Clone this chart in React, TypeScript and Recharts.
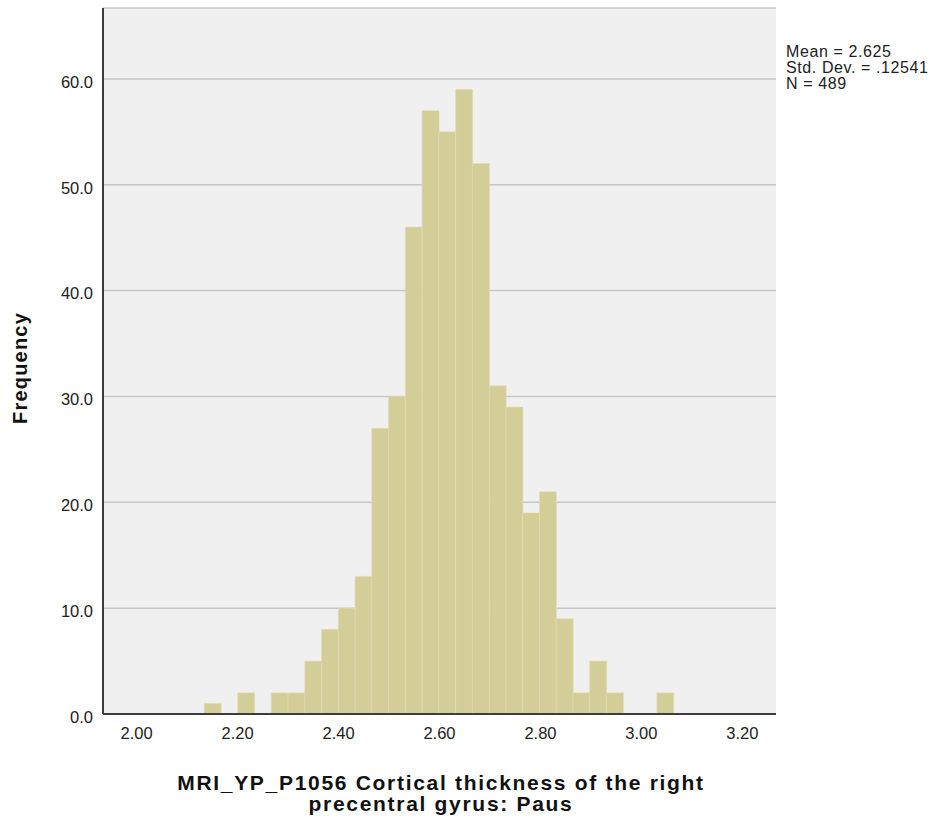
import React from "react"
import {
  BarChart,
  Bar,
  XAxis,
  YAxis,
  CartesianGrid
} from "recharts"

// bin centres (cortical thickness, mm) and counts per bin
const binCenters = [
  2.1504, 2.1836, 2.2168, 2.25, 2.2832, 2.3165, 2.3497, 2.3829, 2.4161, 2.4493,
  2.4825, 2.5157, 2.5489, 2.5821, 2.6153, 2.6486, 2.6818, 2.715, 2.7482, 2.7814,
  2.8146, 2.8478, 2.881, 2.9142, 2.9474, 2.9807, 3.0139, 3.0471
]
const counts = [
  1, 0, 2, 0, 2, 2, 5, 8, 10, 13,
  27, 30, 46, 57, 55, 59, 52, 31, 29, 19,
  21, 9, 2, 5, 2, 0, 0, 2
]

const xTicks = [2.0, 2.2, 2.4, 2.6, 2.8, 3.0, 3.2]
const yTicks = [0, 10, 20, 30, 40, 50, 60]

const statLines = ["Mean = 2.625", "Std. Dev. = .12541", "N = 489"]
const xTitle = ["MRI_YP_P1056 Cortical thickness of the right", "precentral gyrus: Paus"]
const yTitle = "Frequency"

const data = binCenters.map((x, i) => ({ x, freq: counts[i] }))

const font = "'Liberation Sans', Arial, sans-serif"
const tickStyle = { fontSize: 16.5, fill: "#222", fontFamily: font }

export default function App() {
  return (
    <div style={{ position: "absolute", left: 0, top: 0, width: 938, height: 825, background: "#fff" }}>
      <BarChart
        width={938}
        height={825}
        data={data}
        margin={{ top: 8, right: 162, left: 43, bottom: 81 }}
        barCategoryGap={0}
        barGap={0}
      >
        <CartesianGrid
          vertical={false}
          fill="#f0f0f0"
          fillOpacity={1}
          stroke="#c6c6c6"
          strokeWidth={1.5}
        />
        <XAxis
          dataKey="x"
          type="number"
          domain={[1.9333, 3.2667]}
          ticks={xTicks}
          interval={0}
          allowDataOverflow
          tickFormatter={(v: number) => v.toFixed(2)}
          tickLine={false}
          tickMargin={7}
          height={30}
          axisLine={{ stroke: "#3c3c3c", strokeWidth: 2 }}
          tick={tickStyle}
        />
        <XAxis
          xAxisId="top"
          orientation="top"
          type="number"
          domain={[1.9333, 3.2667]}
          height={0}
          tick={false}
          tickLine={false}
          axisLine={{ stroke: "#555", strokeWidth: 2 }}
        />
        <YAxis
          domain={[0, 66.7]}
          ticks={yTicks}
          interval={0}
          allowDataOverflow
          tickFormatter={(v: number) => v.toFixed(1)}
          tickLine={false}
          tickMargin={4}
          width={60}
          axisLine={{ stroke: "#3c3c3c", strokeWidth: 2 }}
          tick={{ ...tickStyle, dy: 3 }}
        />
        <YAxis
          yAxisId="right"
          orientation="right"
          domain={[0, 66.7]}
          width={0}
          tick={false}
          tickLine={false}
          axisLine={{ stroke: "#888", strokeWidth: 2 }}
        />
        <Bar
          dataKey="freq"
          fill="#d3ce98"
          stroke="#e0ddb8"
          strokeWidth={0.7}
          isAnimationActive={false}
        />
      </BarChart>
      <svg
        width={938}
        height={825}
        style={{ position: "absolute", left: 0, top: 0, pointerEvents: "none" }}
      >
        <text
          transform="translate(26.5, 368) rotate(-90)"
          textAnchor="middle"
          fontFamily={font}
          fontWeight="bold"
          fontSize={20}
          letterSpacing={1.2}
          fill="#111"
        >
          {yTitle}
        </text>
        {xTitle.map((line, i) => (
          <text
            key={line}
            x={441}
            y={790 + i * 21}
            textAnchor="middle"
            fontFamily={font}
            fontWeight="bold"
            fontSize={21}
            letterSpacing={1.7}
            fill="#111"
          >
            {line}
          </text>
        ))}
        {statLines.map((line, i) => (
          <text key={line} x={786} y={57 + i * 16} fontFamily={font} fontSize={16} letterSpacing={0.6} fill="#222">
            {line}
          </text>
        ))}
      </svg>
    </div>
  )
}
